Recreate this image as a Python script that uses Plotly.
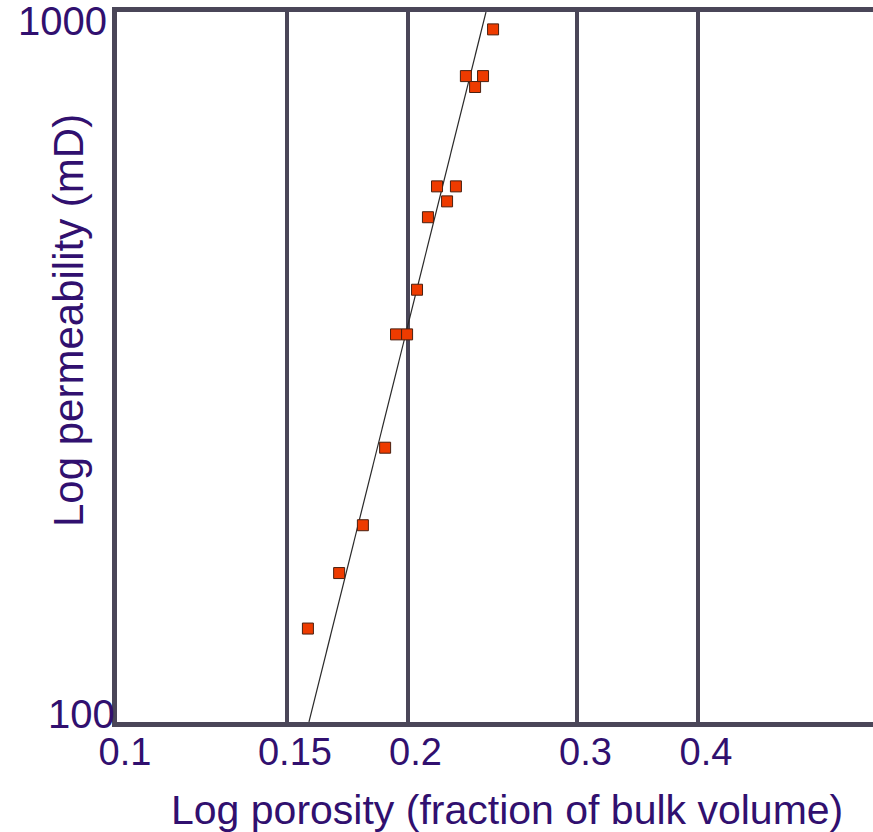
import numpy as np
import plotly.graph_objects as go

# Data
porosity = [0.1577, 0.1699, 0.1798, 0.1896, 0.1946, 0.1998, 0.2046, 0.2100,
            0.2146, 0.2198, 0.2245, 0.2299, 0.2350, 0.2395, 0.2453]
permeability = [135.4, 162.1, 189.3, 243.4, 351.5, 351.5, 406.3, 514.0,
                568.1, 541.1, 568.1, 812.3, 784.1, 812.3, 945.2]
trend_x = [0.1581, 0.2412]
trend_y = [100, 1000]

x_ticks = [0.1, 0.15, 0.2, 0.3, 0.4]
x_tick_labels = ["0.1", "0.15", "0.2", "0.3", "0.4"]
y_ticks = [1000, 100]
y_tick_labels = ["1000", "100"]

TEXT = "#31106F"
LINE = "#4A4658"
FONT = "Liberation Sans, Arial, sans-serif"

fig = go.Figure()
fig.add_trace(go.Scatter(x=trend_x, y=trend_y, mode="lines",
                         line=dict(color="#2a2a2a", width=1.2),
                         hoverinfo="skip", showlegend=False))
fig.add_trace(go.Scatter(x=porosity, y=permeability, mode="markers",
                         marker=dict(symbol="square", size=11, color="#EE3B00",
                                     line=dict(color="#4A2010", width=1)),
                         showlegend=False))

# y tick labels as annotations (placed inside the decade edges like the reference)
yshifts = [-9, 8]
xshifts = [-8, 0]
for v, t, ys, xs in zip(y_ticks, y_tick_labels, yshifts, xshifts):
    fig.add_annotation(x=0, xref="paper", y=np.log10(v), yref="y", text=t,
                       showarrow=False, xanchor="right", yanchor="middle",
                       xshift=xs, yshift=ys,
                       font=dict(family=FONT, size=40, color=TEXT))

fig.add_annotation(x=0.5165, xref="paper", y=-0.1245, yref="paper",
                   text="Log porosity (fraction of bulk volume)", showarrow=False,
                   xanchor="center", yanchor="middle",
                   font=dict(family=FONT, size=41, color=TEXT))
fig.add_annotation(x=-0.0635, xref="paper", y=0.5662, yref="paper",
                   text="Log permeability (mD)", showarrow=False, textangle=-90,
                   xanchor="center", yanchor="middle",
                   font=dict(family=FONT, size=42, color=TEXT))

fig.update_layout(
    width=873, height=832,
    margin=dict(l=117, r=0, t=12, b=110),
    paper_bgcolor="white", plot_bgcolor="white",
    xaxis=dict(type="log", range=[-1, -0.2166],
               tickvals=x_ticks, ticktext=x_tick_labels,
               showgrid=True, gridcolor=LINE, gridwidth=4,
               showline=True, linecolor=LINE, linewidth=5, mirror=True,
               ticks="", ticklabelshift=8, ticklabelstandoff=-8,
               tickfont=dict(family=FONT, size=38, color=TEXT),
               zeroline=False),
    yaxis=dict(type="log", range=[2, 3],
               showgrid=False, showticklabels=False,
               showline=True, linecolor=LINE, linewidth=5, mirror=False,
               ticks="", zeroline=False),
)

fig.write_html("out.html",
               config={"displayModeBar": False},
               post_script="document.body.style.margin='0';"
                           "document.body.style.overflow='hidden';")
